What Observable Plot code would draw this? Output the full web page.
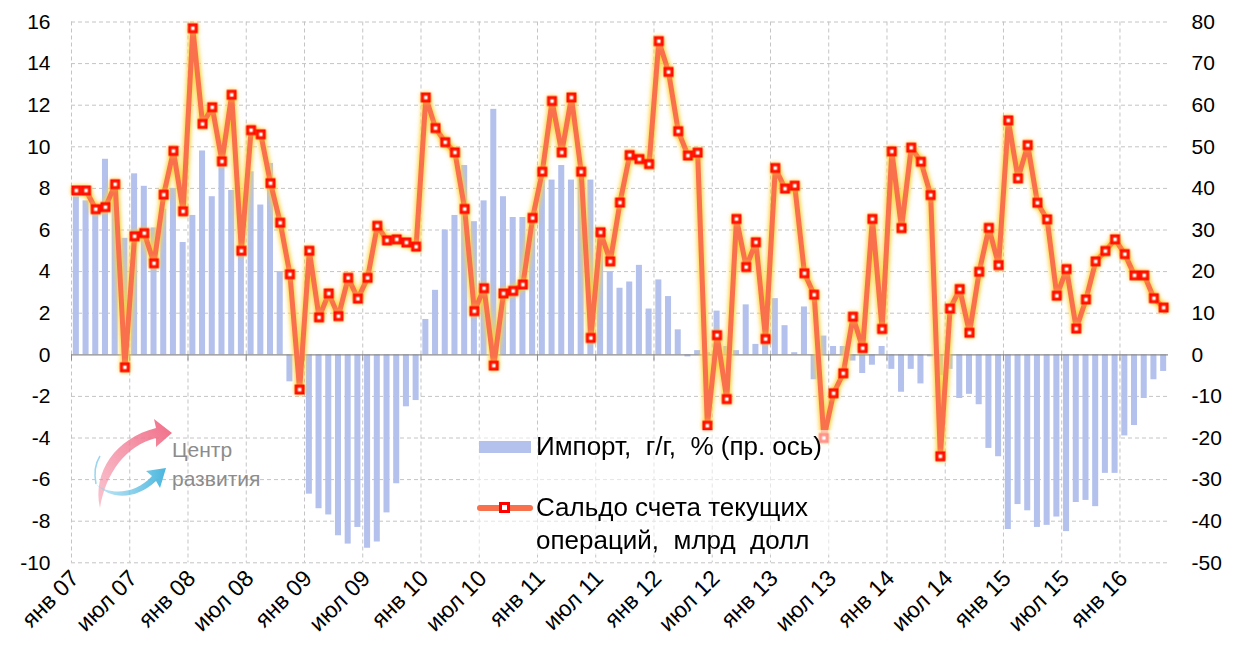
<!DOCTYPE html>
<html><head><meta charset="utf-8">
<script src="https://cdn.jsdelivr.net/npm/d3@7"></script>
<script src="https://cdn.jsdelivr.net/npm/@observablehq/plot@0.6"></script>
<style>
body{margin:0;background:#fff;font-family:"Liberation Sans",Arial,sans-serif;}
#wrap{position:relative;width:1241px;height:661px;overflow:hidden;}
#chart svg{display:block;}
#chart g[aria-label="line"]{filter:drop-shadow(0 0 2px rgba(255,205,40,0.95)) drop-shadow(0 0 2px rgba(255,215,80,0.8));}
#chart g[aria-label="dot"]{filter:drop-shadow(0 0 2px rgba(255,205,40,0.9));}
.leg{position:absolute;font-family:"Liberation Sans",Arial,sans-serif;color:#000;white-space:pre;font-size:26px;line-height:33px;}
.logo{position:absolute;color:#8c8c8c;font-family:"Liberation Sans",Arial,sans-serif;font-size:21px;line-height:29px;white-space:pre;}
</style></head><body>
<div id="wrap"><div id="chart"></div></div>
<script>
// ---- data ----
const monthNames = ["янв","фев","мар","апр","май","июн","июл","авг","сен","окт","ноя","дек"];
const firstYear = 7; // 2007
// Import, y/y, % (right axis), Jan 2007 - May 2016
const importYoY = [
  38, 37, 35, 47, 40, 28, 43.5, 40.5, 30.5, 35, 40, 27,
  33.5, 49, 38, 46, 39.5, 26.5, 44, 36, 46, 20, -6.5, -7.5,
  -33.5, -37, -38.5, -43.5, -45.5, -41.5, -46.5, -45, -38, -31, -12.5, -11,
  8.5, 15.5, 30, 33.5, 45.5, 32, 37, 59, 38, 33, 33, 32.5,
  42, 42, 45.5, 42, 42.5, 42, 28, 20, 16, 17.5, 21.5, 11,
  18, 14, 6, -0.5, 1, 0.5, 10.5, 2, 1, 12, 2.5, 3,
  13.5, 7, 0.5, 11.5, -6, 4.5, 2, 2, -1.5, -4.5, -2.5, 2,
  -3.5, -9, -3.5, -7, -0.5, -5, -3.5, -10.5, -9.5, -12, -22.5, -24.5,
  -42, -36, -37.5, -41.5, -41, -39, -42.5, -35.5, -35, -36.5, -28.5, -28.5,
  -19.5, -17, -10.5, -6, -4
];
// Current account balance, bln USD (left axis)
const currentAccount = [
  7.9, 7.9, 7.0, 7.1, 8.2, -0.6, 5.7, 5.85, 4.4, 7.7, 9.8, 6.9,
  15.7, 11.1, 11.9, 9.3, 12.5, 5.0, 10.8, 10.6, 8.25, 6.35, 3.87, -1.67,
  5.0, 1.8, 2.95, 1.86, 3.7, 2.7, 3.7, 6.2, 5.5, 5.55, 5.4, 5.2,
  12.37, 10.9, 10.22, 9.73, 7.01, 2.1, 3.2, -0.52, 2.95, 3.07, 3.38, 6.58,
  8.8, 12.2, 9.73, 12.37, 8.8, 0.81, 5.89, 4.49, 7.32, 9.6, 9.41, 9.17,
  15.08, 13.6, 10.75, 9.58, 9.72, -3.41, 0.94, -2.13, 6.53, 4.22, 5.41, 0.76,
  8.98, 7.99, 8.13, 3.92, 2.89, -4.0, -1.85, -0.89, 1.83, 0.32, 6.53, 1.24,
  9.78, 6.09, 9.96, 9.28, 7.68, -4.88, 2.22, 3.16, 1.06, 3.99, 6.1, 4.31,
  11.27, 8.48, 10.08, 7.31, 6.51, 2.84, 4.12, 1.26, 2.66, 4.49, 4.99, 5.55,
  4.84, 3.82, 3.82, 2.72, 2.27
];
const leftTicks = [-10, -8, -6, -4, -2, 0, 2, 4, 6, 8, 10, 12, 14, 16];
const rightTicks = [-50, -40, -30, -20, -10, 0, 10, 20, 30, 40, 50, 60, 70, 80];
const axisRatio = 5;      // right axis / left axis
const labelStep = 6;      // x label every 6 months

const n = currentAccount.length;
const rows = currentAccount.map((ca, i) => ({
  i, ca, imp: importYoY[i],
  label: monthNames[i % 12] + " " + String(firstYear + Math.floor(i / 12)).padStart(2, "0")
}));
const labelRows = rows.filter(d => d.i % labelStep === 0);
const gridIdx = d3.range(0, n, labelStep);

const barColor = "#b3c1ec";
const lineColor = "#f8714c";
const gridColor = "#c4c4c4";

const chart = Plot.plot({
  width: 1241, height: 661,
  marginLeft: 71, marginRight: 73, marginTop: 21.5, marginBottom: 98.7,
  x: {type: "linear", domain: [0, n], axis: null},
  y: {domain: [-10, 16], axis: null},
  style: {fontFamily: "Liberation Sans, Arial, sans-serif", fontSize: "21px", color: "#000", background: "transparent", overflow: "visible"},
  marks: [
    Plot.ruleY(leftTicks.filter(t => t !== 0), {stroke: gridColor, strokeDasharray: "4,3", strokeWidth: 1}),
    Plot.ruleX(gridIdx, {x: d => d, stroke: gridColor, strokeDasharray: "4,3", strokeWidth: 1}),
    Plot.rectY(rows, {x1: d => d.i + 0.19, x2: d => d.i + 0.81, y1: 0, y2: d => d.imp / axisRatio, fill: barColor}),
    Plot.ruleY([0], {stroke: "#8c8c8c", strokeWidth: 1.3}),
    Plot.ruleX(gridIdx, {x: d => d, y1: 0, y2: -0.3, stroke: "#8c8c8c", strokeWidth: 1}),
    Plot.line(rows, {x: d => d.i + 0.5, y: "ca", stroke: lineColor, strokeWidth: 5, strokeLinejoin: "round"}),
    Plot.dot(rows, {x: d => d.i + 0.5, y: "ca", symbol: "square", r: 5.6, fill: "#ff0000", stroke: "none"}),
    Plot.dot(rows, {x: d => d.i + 0.5, y: "ca", symbol: "square", r: 1.9, fill: "#ffffff", stroke: "none"}),
    Plot.axisY(leftTicks, {anchor: "left", label: null, tickSize: 0, tickPadding: 21, fontSize: 21, tickFormat: d => String(d)}),
    Plot.axisY(rightTicks.map(t => t / axisRatio), {anchor: "right", label: null, tickSize: 0, tickPadding: 23, fontSize: 21, textAnchor: "start", tickFormat: d => String(Math.round(d * axisRatio))}),
    Plot.text(labelRows, {x: d => d.i + 0.5, frameAnchor: "bottom", text: "label", rotate: -45, textAnchor: "end", dx: 4, dy: 17, fontSize: 23})
  ]
});
document.getElementById("chart").appendChild(chart);

// legend + logo overlay
const wrap = document.getElementById("wrap");
wrap.insertAdjacentHTML("beforeend", `
<div style="position:absolute;left:474px;top:430px;width:362px;height:125px;background:rgba(255,255,255,0.55);"></div>
<div style="position:absolute;left:479px;top:441px;width:52px;height:12px;background:${barColor};"></div>
<div class="leg" style="left:536px;top:430px;">Импорт,  г/г,  % (пр. ось)</div>
<div style="position:absolute;left:477px;top:505px;width:56px;height:6px;border-radius:3px;background:${lineColor};"></div>
<div style="position:absolute;left:499px;top:502px;width:5px;height:5px;border:3px solid #ff0000;background:#fff;"></div>
<div class="leg" style="left:536px;top:491px;">Сальдо счета текущих
операций,  млрд  долл</div>
<svg style="position:absolute;left:86px;top:414px;" width="94" height="100" viewBox="0 0 94 100">
  <defs>
    <linearGradient id="gp" x1="0" y1="1" x2="1" y2="0"><stop offset="0" stop-color="#f48aa0" stop-opacity="0.5"/><stop offset="1" stop-color="#f06c86"/></linearGradient>
    <linearGradient id="gb" x1="0" y1="0" x2="1" y2="0"><stop offset="0" stop-color="#9ad6ee" stop-opacity="0.6"/><stop offset="1" stop-color="#49b6de"/></linearGradient>
  </defs>
  <path d="M14 94 C6 58 30 24 70 14 L68 5 L86 19 L70 33 L70 24 C40 32 20 58 14 94 Z" fill="url(#gp)"/>
  <path d="M10 70 C24 82 50 80 66 62 L60 57 L80 54 L74 74 L70 67 C50 86 24 86 10 70 Z" fill="url(#gb)"/>
  <path d="M14 42 C9 50 8 60 10 70" stroke="#9ad6ee" stroke-width="1.5" fill="none"/>
</svg>
<div class="logo" style="left:172px;top:435px;">Центр
развития</div>
`);
</script></body></html>
